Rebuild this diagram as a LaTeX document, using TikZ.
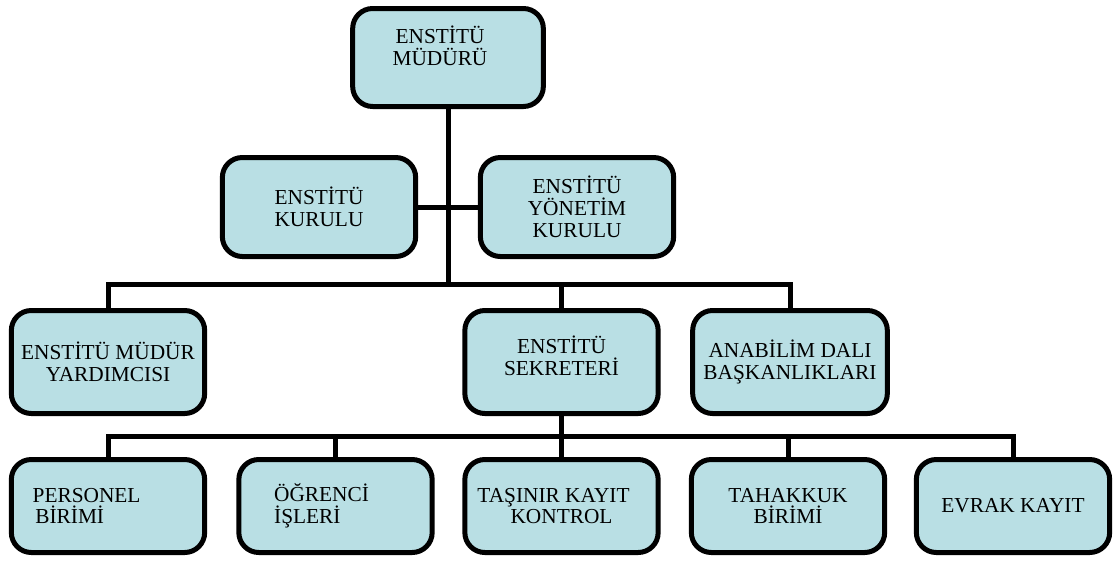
\documentclass[tikz,border=0pt]{standalone}
\usepackage{fontspec}
\setmainfont{Liberation Serif}
\usetikzlibrary{calc}
\definecolor{birimmavi}{RGB}{185,223,228}
\tikzset{
  birim/.style={draw, line width=3.75pt, rounded corners=15pt, fill=birimmavi,
    minimum width=145pt, align=center, inner sep=2pt,
    font=\fontsize{16}{16.4}\selectfont},
  hat/.style={line width=3.75pt},
}

\begin{document}
\begin{tikzpicture}[x=0.75pt,y=-0.75pt]
  \useasboundingbox (0,0) rectangle (1113,561);
  % ust kademe
  \node[birim,minimum width=143pt,minimum height=73.5pt] (mudur) at (448,57.5)
    {\hspace*{-12pt}ENSTİTÜ\\\hspace*{-12pt}MÜDÜRÜ\\[1.6pt]~};
  \node[birim,minimum height=74.25pt] (kurul) at (319,207) {ENSTİTÜ\\KURULU};
  \node[birim,minimum height=74.25pt] (yonetim) at (577,207) {ENSTİTÜ\\YÖNETİM\\KURULU};
  % orta kademe
  \node[birim,minimum height=77.25pt] (yard) at (108,362) {ENSTİTÜ MÜDÜR\\YARDIMCISI};
  \node[birim,minimum height=77.25pt] (sekr) at (561.5,362) {ENSTİTÜ\\SEKRETERİ\\[-6.4pt]~};
  \node[birim,minimum width=146pt,minimum height=77.25pt] (anab) at (790,362) {ANABİLİM DALI\\BAŞKANLIKLARI};
  % alt kademe
  \node[birim,minimum height=69.75pt,align=left,inner xsep=0pt,text width=113pt] (pers) at (108,506) {PERSONEL\\\hspace*{2pt}BİRİMİ};
  \node[birim,minimum height=69.75pt,align=left,inner xsep=0pt,text width=92pt] (ogr) at (335.5,506) {ÖĞRENCİ\\İŞLERİ};
  \node[birim,minimum height=69.75pt] (tas) at (561.5,506) {\hspace*{-12pt}TAŞINIR KAYIT\\KONTROL};
  \node[birim,minimum height=69.75pt] (tah) at (788,506) {TAHAKKUK\\BİRİMİ};
  \node[birim,minimum height=69.75pt] (evrak) at (1013,506) {EVRAK KAYIT};
  % baglantilar
  \coordinate (bus1) at (448,284);
  \coordinate (bus2) at (561.5,436);
  \draw[hat] (mudur.south) -- (bus1);
  \draw[hat] (kurul.east) -- (yonetim.west);
  \draw[hat] (yard.north) |- (bus1) -| (anab.north);
  \draw[hat] (sekr.north) -- (sekr.north |- bus1);
  \draw[hat] (sekr.south) -- (bus2);
  \draw[hat] (pers.north) |- (bus2) -| (evrak.north);
  \foreach \n in {ogr,tas,tah}
    \draw[hat] (\n.north) -- (\n.north |- bus2);
\end{tikzpicture}
\end{document}
